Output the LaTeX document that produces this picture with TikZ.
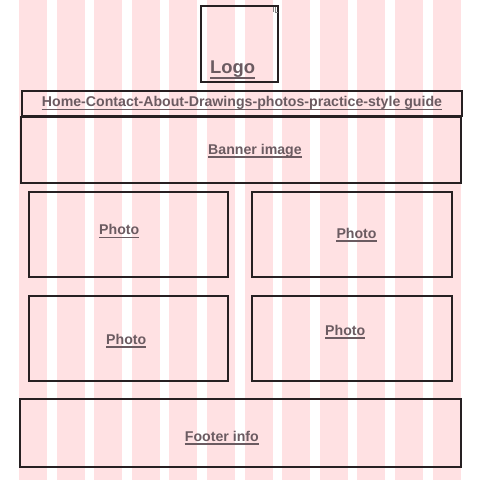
\documentclass[tikz,border=0pt]{standalone}
\usepackage{fontspec}
\setmainfont{Liberation Sans}
\definecolor{gridpink}{HTML}{FFE1E3}
\definecolor{boxline}{HTML}{262022}
\definecolor{labelcol}{HTML}{6B5B61}
\begin{document}
\begin{tikzpicture}[x=1pt,y=-1pt,
  wbox/.style={draw=boxline,line width=1.4pt},
  lbl/.style={anchor=base west,inner sep=0pt,text=labelcol,font=\fontsize{14.15}{16}\selectfont\bfseries},
  biglbl/.style={lbl,font=\fontsize{18.4}{20}\selectfont\bfseries},
  uline/.style={draw=labelcol,line width=1.3pt}]
\useasboundingbox (0,0) rectangle (480,480);
\fill[white] (0,0) rectangle (480,480);
% grid columns
\foreach \k in {0,...,11}{
  \fill[gridpink] ({19+37.6*\k},0) rectangle ({19+37.6*\k+28},480);
}
% boxes
\draw[wbox] (201,6) rectangle (278,82);
\draw[wbox] (22,91) rectangle (462,116);
\draw[wbox] (21,117) rectangle (461,183);
\draw[wbox] (29,192) rectangle (228,277);
\draw[wbox] (252,192) rectangle (452,277);
\draw[wbox] (29,296) rectangle (228,381);
\draw[wbox] (252,296) rectangle (452,381);
\draw[wbox] (20,399) rectangle (461,467);
% tiny handle mark in logo box
\draw[gray,line width=0.5pt] (273,7) -- (273,12) (275,7) -- (275,12) -- (278,12);
% labels
\node[biglbl] (logo) at (210,73.5) {Logo};
\node[lbl] (nav) at (41.7,106.7) {Home-Contact-About-Drawings-photos-practice-style guide};
\node[lbl] (banner) at (208,154) {Banner image};
\node[lbl] (p1) at (99,234.3) {Photo};
\node[lbl] (p2) at (336.3,238) {Photo};
\node[lbl] (p3) at (106,344) {Photo};
\node[lbl] (p4) at (325,335) {Photo};
\node[lbl] (foot) at (184.7,441) {Footer info};
\foreach \n in {nav,banner,p1,p2,p3,p4,foot}{
  \draw[uline] ([yshift=-3pt]\n.base west) -- ([yshift=-3pt]\n.base east);
}
\draw[uline,line width=1.6pt] ([yshift=-4.5pt]logo.base west) -- ([yshift=-4.5pt]logo.base east);
\end{tikzpicture}
\end{document}
